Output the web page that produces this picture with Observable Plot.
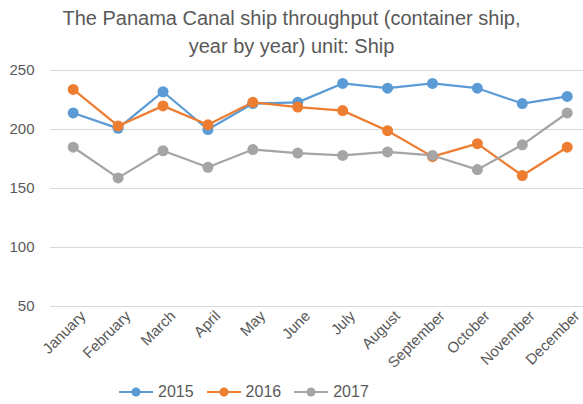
<!DOCTYPE html>
<html><head><meta charset="utf-8">
<script src="https://cdn.jsdelivr.net/npm/d3@7"></script>
<script src="https://cdn.jsdelivr.net/npm/@observablehq/plot@0.6"></script>
<style>
body{margin:0;background:#fff;font-family:"Liberation Sans",Arial,sans-serif;}
#wrap{width:583px;height:404px;position:relative;overflow:hidden}
#title{height:60px;text-align:center;color:#595959;font-size:20px;line-height:28px;padding-top:4px;box-sizing:border-box}
#legend{position:absolute;left:119px;top:380px;display:flex;gap:13px;color:#595959;font-size:16px;height:24px;align-items:center}
.li{display:flex;align-items:center;gap:5px}
</style></head>
<body><div id="wrap">
<div id="title">The Panama Canal ship throughput (container ship,<br>year by year) unit: Ship</div>
<div id="chart"></div>
<div id="legend"></div>
</div>
<script>
const months = ["January","February","March","April","May","June","July","August","September","October","November","December"];
const series = ["2015","2016","2017"];
const v2015 = [214,201,232,200,222,223,239,235,239,235,222,228];
const v2016 = [234,203,220,204,223,219,216,199,177,188,161,185];
const v2017 = [185,159,182,168,183,180,178,181,178,166,187,214];
const yTicks = [50,100,150,200,250];
const colors = ["#5B9BD5","#ED7D31","#A5A5A5"];

const vals = [v2015, v2016, v2017];
const data = [];
series.forEach((s, i) => months.forEach((m, j) => data.push({series: s, month: m, value: vals[i][j]})));

const chart = Plot.plot({
  width: 583,
  height: 316,
  marginTop: 10,
  marginBottom: 70,
  marginLeft: 50,
  marginRight: 0,
  style: {fontFamily: '"Liberation Sans",Arial,sans-serif', color: "#595959", background: "#fff"},
  x: {type: "point", domain: months, range: [72.7, 566.7], padding: 0, round: false},
  y: {domain: [50, 250]},
  color: {domain: series, range: colors},
  marks: [
    Plot.gridY(yTicks, {stroke: "#d9d9d9", strokeOpacity: 1, strokeWidth: 1}),
    Plot.axisY(yTicks, {tickSize: 0, tickPadding: 16, fontSize: 15, fill: "#595959", label: null}),
    Plot.axisX({tickSize: 0, tickRotate: -45, fontSize: 15, fill: "#595959", label: null, tickPadding: 0, dx: 10, dy: 7}),
    Plot.line(data, {x: "month", y: "value", z: "series", stroke: "series", strokeWidth: 2.25}),
    Plot.dot(data, {x: "month", y: "value", fill: "series", r: 5.5})
  ]
});
document.getElementById("chart").appendChild(chart);

const leg = d3.select("#legend");
series.forEach((s, i) => {
  const item = leg.append("div").attr("class", "li");
  const svg = item.append("svg").attr("width", 34).attr("height", 12);
  svg.append("line").attr("x1", 0).attr("x2", 34).attr("y1", 6).attr("y2", 6).attr("stroke", colors[i]).attr("stroke-width", 2);
  svg.append("circle").attr("cx", 17).attr("cy", 6).attr("r", 4.5).attr("fill", colors[i]);
  item.append("span").text(s);
});
</script>
</body></html>
